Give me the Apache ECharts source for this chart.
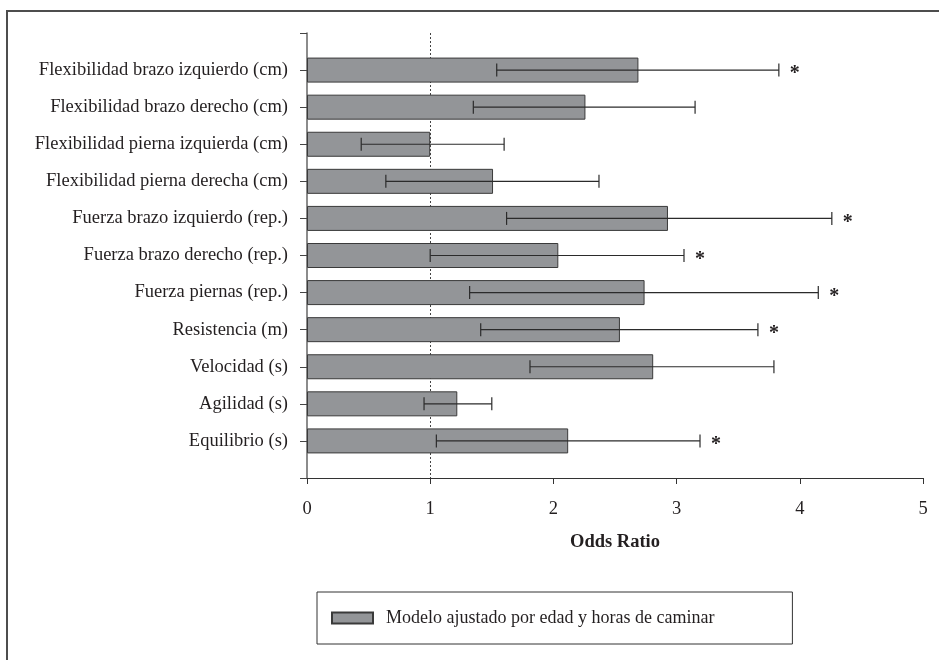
<!DOCTYPE html>
<html>
<head>
<meta charset="utf-8">
<script src="https://cdn.jsdelivr.net/npm/echarts@6/dist/echarts.min.js"></script>
<style>
  body { margin: 0; background: #fff; }
  #wrap { position: relative; width: 939px; height: 660px; }
  #chart { width: 939px; height: 660px; }
  /* marco superior e izquierdo de la figura */
  .frame {
    position: absolute; left: 6px; top: 10px; right: 0; bottom: 0;
    border-top: 2px solid #4d4d4d; border-left: 2px solid #4d4d4d;
    pointer-events: none;
  }
</style>
</head>
<body>
<div id="wrap">
  <div id="chart"></div>
  <div class="frame"></div>
</div>
<script>
  var categories = [
    'Flexibilidad brazo izquierdo (cm)',
    'Flexibilidad brazo derecho (cm)',
    'Flexibilidad pierna izquierda (cm)',
    'Flexibilidad pierna derecha (cm)',
    'Fuerza brazo izquierdo (rep.)',
    'Fuerza brazo derecho (rep.)',
    'Fuerza piernas (rep.)',
    'Resistencia (m)',
    'Velocidad (s)',
    'Agilidad (s)',
    'Equilibrio (s)'
  ];
  var oddsRatio = [2.69, 2.26, 1.00, 1.51, 2.93, 2.04, 2.74, 2.54, 2.81, 1.22, 2.12];
  var ciLow     = [1.54, 1.35, 0.44, 0.64, 1.62, 1.00, 1.32, 1.41, 1.81, 0.95, 1.05];
  var ciHigh    = [3.83, 3.15, 1.60, 2.37, 4.26, 3.06, 4.15, 3.66, 3.79, 1.50, 3.19];
  var signif    = ['*', '', '', '', '*', '*', '*', '*', '', '', '*'];
  var xTicks = [0, 1, 2, 3, 4, 5];
  var serieName = 'Modelo ajustado por edad y horas de caminar';

  var font = 'Liberation Serif';
  var txt = '#231f20';

  var errData = categories.map(function (c, i) {
    return [i, ciLow[i], ciHigh[i], signif[i]];
  });

  var chart = echarts.init(document.getElementById('chart'));
  chart.setOption({
    animation: false,
    textStyle: { fontFamily: font, color: txt },
    grid: { left: 307, right: 16, top: 33, bottom: 182 },
    legend: {
      data: [serieName],
      left: 317,
      top: 592,
      orient: 'horizontal',
      itemWidth: 41,
      itemHeight: 11,
      icon: 'rect',
      borderColor: '#333',
      borderWidth: 1,
      borderRadius: 0,
      padding: [17, 78, 17, 14],
      textStyle: { fontFamily: font, fontSize: 18, color: txt, padding: [0, 0, 0, 8] }
    },
    xAxis: {
      type: 'value',
      min: xTicks[0],
      max: xTicks[xTicks.length - 1],
      interval: 1,
      splitLine: { show: false },
      axisLine: { show: true, lineStyle: { color: '#333', width: 1 } },
      axisTick: { show: true, length: 6, lineStyle: { color: '#333' } },
      axisLabel: { fontFamily: font, fontSize: 18.5, color: txt, margin: 22 },
      name: 'Odds Ratio',
      nameLocation: 'middle',
      nameGap: 55,
      nameTextStyle: { fontFamily: font, fontSize: 18.5, fontWeight: 'bold', color: txt }
    },
    yAxis: {
      type: 'category',
      data: categories,
      inverse: true,
      boundaryGap: false,
      min: -1,
      max: categories.length,
      axisLine: { show: true, lineStyle: { color: '#666', width: 1.5 } },
      axisTick: { show: true, length: 7, lineStyle: { color: '#444' } },
      splitLine: { show: false },
      axisLabel: {
        fontFamily: font, fontSize: 18.5, color: txt, margin: 19,
        formatter: function (v) { return categories.indexOf(v) >= 0 ? v : ''; }
      }
    },
    series: [
      {
        name: serieName,
        type: 'bar',
        data: oddsRatio,
        barWidth: 25,
        z: 2,
        itemStyle: { color: '#939598', borderColor: '#3a3a3a', borderWidth: 1 },
        markLine: {
          silent: true,
          z: 1,
          symbol: 'none',
          label: { show: false },
          lineStyle: { type: [2, 2], color: '#444', width: 1 },
          data: [{ xAxis: 1 }]
        }
      },
      {
        // intervalos de confianza + asteriscos
        type: 'custom',
        z: 3,
        data: errData,
        encode: { x: [1, 2], y: 0 },
        renderItem: function (params, api) {
          var i = api.value(0);
          var p1 = api.coord([api.value(1), i]);
          var p2 = api.coord([api.value(2), i]);
          var cap = 6.5;
          var st = { stroke: '#2b2b2b', lineWidth: 1.2 };
          var kids = [
            { type: 'line', shape: { x1: p1[0], y1: p1[1], x2: p2[0], y2: p2[1] }, style: st },
            { type: 'line', shape: { x1: p1[0], y1: p1[1] - cap, x2: p1[0], y2: p1[1] + cap }, style: st },
            { type: 'line', shape: { x1: p2[0], y1: p2[1] - cap, x2: p2[0], y2: p2[1] + cap }, style: st }
          ];
          if (signif[params.dataIndex]) {
            kids.push({
              type: 'text',
              style: {
                x: p2[0] + 16, y: p2[1] + 4,
                text: signif[params.dataIndex],
                font: 'bold 20px "Liberation Serif"',
                fill: '#231f20',
                align: 'center', verticalAlign: 'middle'
              }
            });
          }
          return { type: 'group', children: kids };
        }
      }
    ]
  });
</script>
</body>
</html>
